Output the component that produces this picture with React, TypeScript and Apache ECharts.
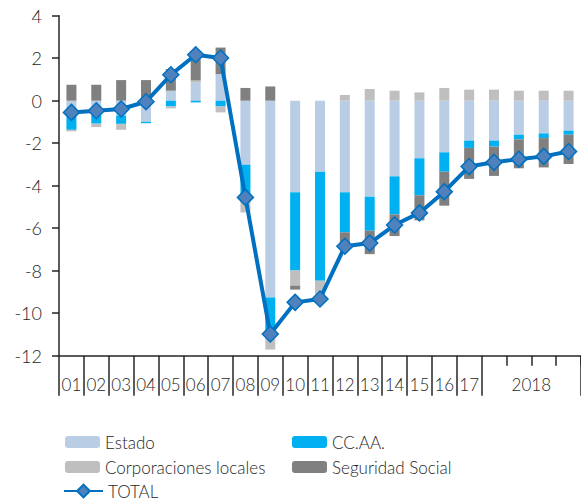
import React, { useEffect, useRef } from 'react';
import * as echarts from 'echarts';

const categories = ['01', '02', '03', '04', '05', '06', '07', '08', '09', '10', '11', '12', '13', '14', '15', '16', '17', '2018-I', '2018-II', '2018-III', '2018-IV'];
const tickLabels = ['01', '02', '03', '04', '05', '06', '07', '08', '09', '10', '11', '12', '13', '14', '15', '16', '17', '', '', '', ''];
const yearLabel = '2018';
const yearLabelPos = 19; // boundary between 2018-II and 2018-III

const estado = [-0.75, -0.68, -0.7, -0.99, 0.47, 0.85, 1.25, -3.01, -9.26, -4.31, -3.34, -4.31, -4.52, -3.56, -2.71, -2.43, -1.88, -1.88, -1.6, -1.54, -1.41];
const ccaa = [-0.62, -0.4, -0.39, -0.07, -0.27, -0.08, -0.27, -1.46, -1.55, -3.68, -5.13, -1.88, -1.6, -1.79, -1.74, -0.91, -0.34, -0.28, -0.22, -0.22, -0.19];
const corporaciones = [-0.07, -0.16, -0.28, 0, -0.09, 0.1, -0.28, -0.79, -0.9, -0.71, -0.63, 0.27, 0.55, 0.47, 0.39, 0.6, 0.52, 0.52, 0.47, 0.47, 0.47];
const seguridad = [0.75, 0.75, 0.97, 0.97, 1.02, 1.18, 1.25, 0.6, 0.67, -0.19, 0, -0.72, -1.1, -1.02, -1.18, -1.6, -1.46, -1.38, -1.36, -1.38, -1.38];
const total = [-0.55, -0.47, -0.39, -0.05, 1.22, 2.16, 2.01, -4.55, -10.98, -9.49, -9.33, -6.85, -6.7, -5.85, -5.28, -4.28, -3.1, -2.9, -2.75, -2.62, -2.39];

const FONT = 'Lato';
const WEIGHT = 300;
const TEXT = '#262626';
const AXIS = '#262626';

export default function App() {
  const ref = useRef<HTMLDivElement>(null);
  useEffect(() => {
    if (!ref.current) return;
    const chart = echarts.init(ref.current, undefined, { renderer: 'svg' });
    const barCommon = {
      type: 'bar',
      stack: 'total',
      barWidth: 10,
      xAxisIndex: 0,
      yAxisIndex: 0,
    };
    const legendText = { fontFamily: FONT, fontWeight: WEIGHT, fontSize: 17, color: TEXT, lineHeight: 20 };
    chart.setOption({
      animation: false,
      textStyle: { fontFamily: FONT },
      grid: { left: 59, top: 15.7, bottom: 147.3, right: -10, containLabel: false },
      legend: [
        {
          left: 65, top: 432, orient: 'vertical', padding: 0, itemGap: 5,
          itemWidth: 35, itemHeight: 12,
          textStyle: legendText,
          data: ['Estado', 'Corporaciones locales'],
        },
        {
          left: 292, top: 432, orient: 'vertical', padding: 0, itemGap: 5,
          itemWidth: 35, itemHeight: 12,
          textStyle: legendText,
          data: ['CC.AA.', 'Seguridad Social'],
        },
        {
          left: 63, top: 481, orient: 'vertical', padding: 0,
          itemWidth: 39, itemHeight: 16,
          textStyle: legendText,
          data: ['TOTAL'],
        },
      ],
      xAxis: [
        {
          type: 'category',
          data: categories,
          position: 'bottom',
          axisLine: { onZero: false, lineStyle: { color: AXIS, width: 1.5 } },
          axisTick: { show: true, length: 40, interval: (i: number) => i <= 17, lineStyle: { color: AXIS, width: 1.5 } },
          axisLabel: {
            interval: 0,
            margin: 20,
            fontFamily: FONT,
            fontWeight: WEIGHT,
            fontSize: 17,
            color: TEXT,
            formatter: (_v: string, i: number) => tickLabels[i],
          },
          splitLine: { show: false },
        },
        {
          type: 'category',
          data: categories,
          position: 'bottom',
          axisLine: { show: false, onZero: false },
          axisTick: { show: true, length: 10, interval: (i: number) => i >= 18, lineStyle: { color: AXIS, width: 1.5 } },
          axisLabel: { show: false },
          splitLine: { show: false },
        },
        {
          type: 'value',
          min: 0,
          max: categories.length,
          interval: 0.5,
          position: 'bottom',
          axisLine: { show: false, onZero: false },
          axisTick: { show: false },
          splitLine: { show: false },
          axisLabel: {
            margin: 20,
            fontFamily: FONT,
            fontWeight: WEIGHT,
            fontSize: 17,
            color: TEXT,
            showMinLabel: false,
            showMaxLabel: false,
            formatter: (v: number) => (v === yearLabelPos ? yearLabel : ''),
          },
        },
      ],
      yAxis: {
        type: 'value',
        min: -12,
        max: 4,
        interval: 2,
        axisLine: { show: true, lineStyle: { color: AXIS, width: 1.5 } },
        axisTick: { show: true, length: 7, lineStyle: { color: AXIS, width: 1.5 } },
        axisLabel: { margin: 17, fontFamily: FONT, fontWeight: WEIGHT, fontSize: 18, color: TEXT },
        splitLine: { show: false },
      },
      series: [
        { ...barCommon, name: 'Estado', data: estado, itemStyle: { color: '#B9CDE5' } },
        { ...barCommon, name: 'CC.AA.', data: ccaa, itemStyle: { color: '#00B0F0' } },
        { ...barCommon, name: 'Corporaciones locales', data: corporaciones, itemStyle: { color: '#BFBFBF' } },
        { ...barCommon, name: 'Seguridad Social', data: seguridad, itemStyle: { color: '#808080' } },
        {
          type: 'line',
          name: 'TOTAL',
          data: total,
          xAxisIndex: 0,
          yAxisIndex: 0,
          z: 5,
          symbol: 'diamond',
          symbolSize: 16,
          lineStyle: { color: '#0070C0', width: 4 },
          itemStyle: { color: '#4F81BD', borderColor: '#0070C0', borderWidth: 1.5 },
        },
      ],
    });
    return () => chart.dispose();
  }, []);
  return <div ref={ref} style={{ width: 581, height: 503, position: 'absolute', left: 0, top: 0 }} />;
}
